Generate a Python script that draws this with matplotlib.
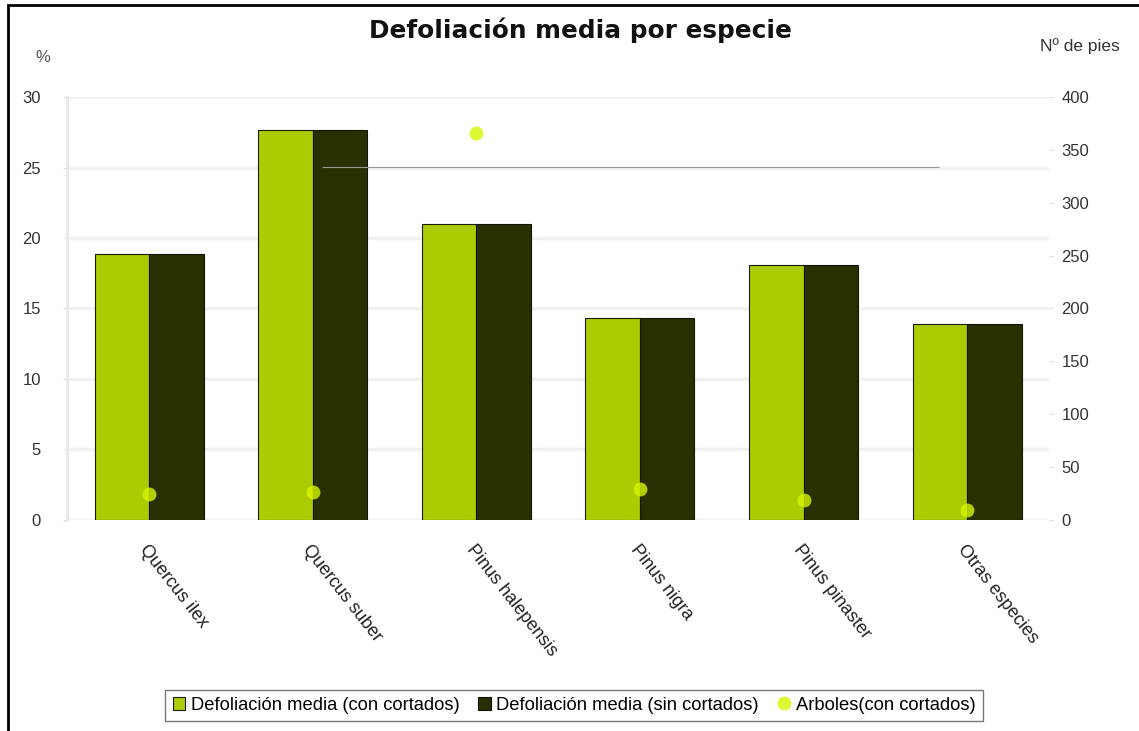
import matplotlib.pyplot as plt
import numpy as np
from matplotlib.patches import Rectangle

plt.rcParams['font.family'] = ['Liberation Sans', 'DejaVu Sans']

especies = ['Quercus ilex', 'Quercus suber', 'Pinus halepensis',
            'Pinus nigra', 'Pinus pinaster', 'Otras especies']
con_cortados = [18.9, 27.7, 21.0, 14.3, 18.1, 13.9]
sin_cortados = [18.9, 27.7, 21.0, 14.3, 18.1, 13.9]
arboles = [24, 26, 366, 29, 19, 9]

verde = '#aacc00'
oscuro = '#283000'
punto = '#d6f500'

fig = plt.figure(figsize=(11.39, 7.31), dpi=100)
ax = fig.add_axes([0.059, 0.289, 0.862, 0.578])
ax2 = ax.twinx()

x = np.arange(len(especies))
w = 0.333
ax.bar(x - w / 2, con_cortados, w, color=verde, edgecolor='#1a1a00', linewidth=0.8,
       label='Defoliación media (con cortados)', zorder=3)
ax.bar(x + w / 2, sin_cortados, w, color=oscuro, edgecolor='#101400', linewidth=0.8,
       label='Defoliación media (sin cortados)', zorder=3)
ax2.plot(x, arboles, linestyle='none', marker='o', markersize=10, color=punto,
         markeredgewidth=0, alpha=0.8, label='Arboles(con cortados)', zorder=4)

ax.set_xlim(-0.5, 5.5)
ax.set_ylim(0, 30)
ax2.set_ylim(0, 400)
ax.set_yticks(range(0, 31, 5))
ax2.set_yticks(range(0, 401, 50))
ax.yaxis.grid(True, color='#f1f1f4', linewidth=2.5, zorder=0)
ax.set_axisbelow(True)

ax.set_xticks(x)
ax.set_xticklabels(especies, rotation=-52, ha='left', va='top',
                   rotation_mode='anchor', fontsize=13, color='#222222')
ax.tick_params(axis='x', length=0, pad=16)
ax.tick_params(axis='y', length=3, color='#dddddd', labelsize=12,
               labelcolor='#333333', pad=16)
ax2.tick_params(axis='y', length=3, color='#dddddd', labelsize=12,
                labelcolor='#333333', pad=6)
for a in (ax, ax2):
    for s in a.spines.values():
        s.set_visible(False)
ax.spines['left'].set_visible(True)
ax.spines['left'].set_color('#e8e8ec')
ax.spines['left'].set_linewidth(2)

# linea fina que cruza el grafico
ax2.hlines(334, 1.06, 4.83, color='#999999', linewidth=0.8, zorder=2)

fig.text(0.51, 0.958, 'Defoliación media por especie', ha='center', va='center',
         fontsize=17.8, fontweight='bold', color='#111111', family='DejaVu Sans')
fig.text(0.031, 0.922, '%', ha='left', va='center', fontsize=12, color='#555555')
fig.text(0.983, 0.937, 'Nº de pies', ha='right', va='center', fontsize=12.5,
         color='#333333')

h1, l1 = ax.get_legend_handles_labels()
h2, l2 = ax2.get_legend_handles_labels()
leg = fig.legend(h1 + h2, l1 + l2, loc='center', bbox_to_anchor=(0.504, 0.035),
                 ncol=3, fontsize=13.2, frameon=True, fancybox=False,
                 handlelength=0.7, handleheight=0.7, handletextpad=0.3,
                 columnspacing=1.0, borderpad=0.4, edgecolor='#555555')
leg.get_frame().set_linewidth(1.0)

fig.patches.append(Rectangle((0.007, -0.01), 1.0, 1.003, transform=fig.transFigure,
                             fill=False, edgecolor='black', linewidth=2.0))

fig.savefig('out.png', dpi=100)
